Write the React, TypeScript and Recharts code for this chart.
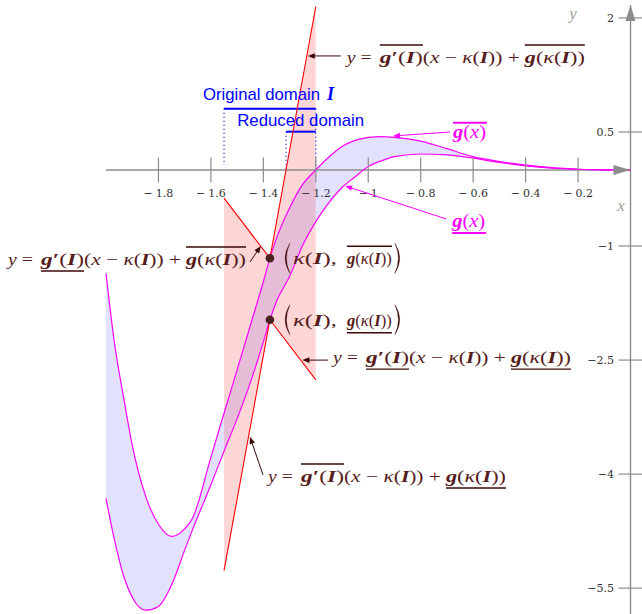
import React from 'react';
import { ComposedChart, XAxis, YAxis, Line, Area, Scatter } from 'recharts';

const CHART_W = 642;
const CHART_H = 614;
const X_DOMAIN: [number, number] = [-2, 0];
const Y_DOMAIN: [number, number] = [-5.84, 2.17];

// interval function g(x) = [lower, upper] sampled on a common grid
const xGrid = [-2.0, -1.97, -1.93, -1.9, -1.85, -1.8, -1.75, -1.7, -1.67, -1.6, -1.55, -1.5, -1.45, -1.4, -1.375, -1.35, -1.3, -1.25, -1.2, -1.15, -1.1, -1.05, -1.0, -0.95, -0.9, -0.8, -0.7, -0.6, -0.5, -0.4, -0.3, -0.2, -0.1, 0];
const gUpper = [-1.36, -2.22, -3.05, -3.62, -4.28, -4.66, -4.82, -4.72, -4.58, -3.78, -3.2, -2.63, -2.05, -1.47, -1.16, -0.9, -0.5, -0.19, 0.0, 0.17, 0.31, 0.39, 0.43, 0.44, 0.43, 0.38, 0.28, 0.175, 0.11, 0.066, 0.03, 0.01, 0.002, 0];
const gLower = [-4.32, -4.83, -5.37, -5.62, -5.79, -5.74, -5.46, -5.0, -4.73, -4.14, -3.7, -3.27, -2.8, -2.26, -1.97, -1.73, -1.4, -0.99, -0.68, -0.43, -0.23, -0.09, 0.045, 0.12, 0.175, 0.21, 0.2, 0.155, 0.1, 0.055, 0.025, 0.01, 0.002, 0];

// mean value form on the original domain I
const domainI = [-1.55, -1.2];
const reducedDomain = [-1.313, -1.2];
const domainILevel = 0.807;
const reducedLevel = 0.504;
const domainIDotBottom = 0.066;
const tangentX = [-1.55, -1.375, -1.2];
const tangentUpper = [-0.37, -1.16, 2.15];
const tangentLower = [-5.27, -1.97, -2.76];

const xTickValues = [-1.8, -1.6, -1.4, -1.2, -1, -0.8, -0.6, -0.4, -0.2];
const xTickLabels = ['1.8', '1.6', '1.4', '1.2', '1', '0.8', '0.6', '0.4', '0.2'];
const yTickValues = [2, 0.5, -1, -2.5, -4, -5.5];
const yTickLabels = ['2', '0.5', '−1', '−2.5', '−4', '−5.5'];

// annotation anchors (data coordinates of arrow tips / labelled points)
const annotationAnchors = [
  { x: -1.2343, y: 1.5, kind: 'eqTop' },
  { x: -1.41, y: -1.0, kind: 'eqLeft' },
  { x: -1.255, y: -2.49, kind: 'eqRight' },
  { x: -1.451, y: -3.51, kind: 'eqBottom' },
  { x: -0.9056, y: 0.447, kind: 'gUp' },
  { x: -1.088, y: -0.21, kind: 'gLow' },
  { x: -1.375, y: -1.16, kind: 'ptA' },
  { x: -1.375, y: -1.97, kind: 'ptB' },
  { x: -1.55, y: 0.807, kind: 'origLabel' },
  { x: -1.313, y: 0.504, kind: 'redLabel' },
];

const bandData = xGrid.map((x, i) => ({ x, r: [gLower[i], gUpper[i]], up: gUpper[i], lo: gLower[i] }));
const pinkData = tangentX.map((x, i) => ({ x, r: [tangentLower[i], tangentUpper[i]], up: tangentUpper[i], lo: tangentLower[i] }));
const xAxisLine = [{ x: X_DOMAIN[0], y: 0 }, { x: X_DOMAIN[1], y: 0 }];
const yAxisLine = [{ x: 0, y: Y_DOMAIN[0] }, { x: 0, y: Y_DOMAIN[1] }];
const origLine = [{ x: domainI[0], y: domainILevel }, { x: domainI[1], y: domainILevel }];
const redLine = [{ x: reducedDomain[0], y: reducedLevel }, { x: reducedDomain[1], y: reducedLevel }];
const dotLeft = [{ x: domainI[0], y: domainILevel }, { x: domainI[0], y: domainIDotBottom }];
const dotMid = [{ x: reducedDomain[0], y: reducedLevel }, { x: reducedDomain[0], y: 0 }];
const dotRight = [{ x: domainI[1], y: domainILevel }, { x: domainI[1], y: 0 }];
const kappaPoints = [{ x: tangentX[1], y: tangentUpper[1] }, { x: tangentX[1], y: tangentLower[1] }];
const xTickData = xTickValues.map((x, i) => ({ x, y: 0, label: xTickLabels[i] }));
const yTickData = yTickValues.map((y, i) => ({ x: 0, y, label: yTickLabels[i] }));
const arrowData = [{ x: 0, y: 0, kind: 'xArrow' }, { x: 0, y: Y_DOMAIN[1], kind: 'yArrow' }];

const AXIS = '#8c8c8c';
const TICKTXT = '#333333';
const MATH_FONT = "'Liberation Serif', 'Times New Roman', serif";
const TICK_FONT = "'DejaVu Serif', serif";
const SANS_FONT = "'Liberation Sans', Arial, sans-serif";
const TXT = '#561b1b';
const BAR = '#3c0808';
const MAG = '#ff00ff';
const BLUE = '#0000ff';

function Arrow({ x1, y1, x2, y2, color, w = 1, head = 7 }: any) {
  const ang = Math.atan2(y2 - y1, x2 - x1);
  const hx = x2 - head * Math.cos(ang);
  const hy = y2 - head * Math.sin(ang);
  const px = -Math.sin(ang) * head * 0.4;
  const py = Math.cos(ang) * head * 0.4;
  return (
    <g>
      <line x1={x1} y1={y1} x2={hx + Math.cos(ang) * 2} y2={hy + Math.sin(ang) * 2} stroke={color} strokeWidth={w} />
      <polygon points={`${x2},${y2} ${hx + px},${hy + py} ${hx - px},${hy - py}`} fill={color} />
    </g>
  );
}

const BI = { fontWeight: 'bold', fontStyle: 'italic' } as const;
const IT = { fontStyle: 'italic' } as const;

const EQ_OFF = [0, 33, 76, 178];
const EQ_W = [25, 43, 97, 60];
const EQ_FS = 17;
function Eq({ x, y, m1, m2 }: any) {
  const seg = (i: number, content: any) => (
    <text x={x + EQ_OFF[i]} y={y} textLength={EQ_W[i]} lengthAdjust="spacingAndGlyphs" fontFamily={MATH_FONT} fontSize={EQ_FS} fill={TXT}>
      {content}
    </text>
  );
  const mark = (i: number, m: string) => {
    const yy = m === 'over' ? y - 18 : y + 6;
    return <line x1={x + EQ_OFF[i]} x2={x + EQ_OFF[i] + EQ_W[i]} y1={yy} y2={yy} stroke={BAR} strokeWidth={1.4} />;
  };
  return (
    <g>
      {seg(0, <><tspan style={IT}>y</tspan><tspan> =</tspan></>)}
      {seg(1, <><tspan style={BI}>g</tspan><tspan fontWeight="bold">′</tspan><tspan>(</tspan><tspan style={BI}>I</tspan><tspan>)</tspan></>)}
      {seg(2, <><tspan>(</tspan><tspan style={IT}>x</tspan><tspan> − </tspan><tspan style={IT}>κ</tspan><tspan>(</tspan><tspan style={BI}>I</tspan><tspan>)) +</tspan></>)}
      {seg(3, <><tspan style={BI}>g</tspan><tspan>(</tspan><tspan style={IT}>κ</tspan><tspan>(</tspan><tspan style={BI}>I</tspan><tspan>))</tspan></>)}
      {mark(1, m1)}
      {mark(3, m2)}
    </g>
  );
}

function bigParen(x: number, cy: number, dir: number) {
  // dir = 1 for left paren "(", -1 for right paren ")"
  const outer = x - dir * 9.5;
  const inner = x - dir * 7;
  return `M ${x} ${cy - 15} Q ${outer} ${cy} ${x} ${cy + 15} Q ${inner} ${cy} ${x} ${cy - 15} Z`;
}

function PointLabel({ cx, cy, mark }: any) {
  const base = cy + 6;
  const yy = mark === 'over' ? cy - 12 : cy + 13;
  return (
    <g>
      <path d={bigParen(cx + 20, cy, 1)} fill={BAR} stroke={BAR} strokeWidth={0.4} />
      <text x={cx + 23} y={base} textLength={44} lengthAdjust="spacingAndGlyphs" fontFamily={MATH_FONT} fontSize={17} fill={TXT}>
        <tspan style={IT}>κ</tspan><tspan>(</tspan><tspan style={BI}>I</tspan><tspan>),</tspan>
      </text>
      <text x={cx + 77} y={base} textLength={45} lengthAdjust="spacingAndGlyphs" fontFamily={MATH_FONT} fontSize={17} fill={TXT}>
        <tspan style={BI}>g</tspan><tspan>(</tspan><tspan style={IT}>κ</tspan><tspan>(</tspan><tspan style={BI}>I</tspan><tspan>))</tspan>
      </text>
      <line x1={cx + 77} x2={cx + 122} y1={yy} y2={yy} stroke={BAR} strokeWidth={1.4} />
      <path d={bigParen(cx + 125, cy, -1)} fill={BAR} stroke={BAR} strokeWidth={0.4} />
    </g>
  );
}

function GLabel({ x, y, w }: any) {
  return (
    <text x={x} y={y} textLength={w} lengthAdjust="spacingAndGlyphs" fontFamily={MATH_FONT} fontSize={18} fill={MAG}>
      <tspan style={BI}>g</tspan><tspan>(</tspan><tspan style={IT}>x</tspan><tspan>)</tspan>
    </text>
  );
}

function Annotation(props: any) {
  const { cx, cy, payload } = props;
  if (cx == null || cy == null) return <g />;
  switch (payload.kind) {
    case 'eqTop':
      return (
        <g>
          <Arrow x1={cx + 34} y1={cy} x2={cx + 1} y2={cy} color={BAR} />
          <Eq x={cx + 40} y={cy + 7} m1="over" m2="over" />
        </g>
      );
    case 'eqLeft':
      return (
        <g>
          <Arrow x1={cx - 10.7} y1={cy + 16} x2={cx} y2={cy} color={BAR} />
          <Eq x={cx - 252.7} y={cy + 19} m1="under" m2="over" />
        </g>
      );
    case 'eqRight':
      return (
        <g>
          <Arrow x1={cx + 26.6} y1={cy + 0.8} x2={cx + 1} y2={cy + 0.8} color={BAR} />
          <Eq x={cx + 31.6} y={cy + 3.8} m1="under" m2="under" />
        </g>
      );
    case 'eqBottom':
      return (
        <g>
          <Arrow x1={cx + 13} y1={cy + 38} x2={cx} y2={cy} color={BAR} />
          <Eq x={cx + 18} y={cy + 45.2} m1="over" m2="under" />
        </g>
      );
    case 'gUp':
      return (
        <g>
          <Arrow x1={cx + 57} y1={cy - 4} x2={cx} y2={cy} color={MAG} />
          <GLabel x={cx + 60} y={cy + 2} w={33} />
          <line x1={cx + 60} x2={cx + 94} y1={cy - 13.3} y2={cy - 13.3} stroke={MAG} strokeWidth={2} />
        </g>
      );
    case 'gLow':
      return (
        <g>
          <Arrow x1={cx + 101} y1={cy + 33} x2={cx} y2={cy} color={MAG} />
          <GLabel x={cx + 107} y={cy + 41} w={33} />
          <line x1={cx + 107} x2={cx + 141} y1={cy + 47} y2={cy + 47} stroke={MAG} strokeWidth={2} />
        </g>
      );
    case 'ptA':
      return <PointLabel cx={cx} cy={cy} mark="over" />;
    case 'ptB':
      return <PointLabel cx={cx} cy={cy} mark="under" />;
    case 'origLabel':
      return (
        <g>
          <text x={cx - 21} y={cy - 8.7} textLength={117} lengthAdjust="spacingAndGlyphs" fontFamily={SANS_FONT} fontSize={17} fill={BLUE}>Original domain</text>
          <text x={cx + 103} y={cy - 8.7} fontFamily={MATH_FONT} fontSize={18} fill={BLUE} style={BI}>I</text>
        </g>
      );
    case 'redLabel':
      return (
        <text x={cx - 49} y={cy - 5.7} textLength={127} lengthAdjust="spacingAndGlyphs" fontFamily={SANS_FONT} fontSize={17} fill={BLUE}>Reduced domain</text>
      );
    default:
      return <g />;
  }
}

function XTick(props: any) {
  const { cx, cy, payload } = props;
  return (
    <g>
      <line x1={cx} x2={cx} y1={cy - 12.5} y2={cy + 12.5} stroke={AXIS} strokeWidth={1.2} />
      <text x={cx} y={cy + 27} textAnchor="middle" fontFamily={TICK_FONT} fontSize={11} fill={TICKTXT}>
        <tspan>−</tspan><tspan dx={3}>{payload.label}</tspan>
      </text>
    </g>
  );
}

function YTick(props: any) {
  const { cx, cy, payload } = props;
  return (
    <g>
      <line x1={cx - 12} x2={cx + 12} y1={cy} y2={cy} stroke={AXIS} strokeWidth={1.2} />
      <text x={cx - 16.5} y={cy + 4} textAnchor="end" fontFamily={TICK_FONT} fontSize={11} fill={TICKTXT}>{payload.label}</text>
    </g>
  );
}

function AxisDecor(props: any) {
  const { cx, cy, payload } = props;
  if (payload.kind === 'xArrow') {
    return (
      <g>
        <polygon points={`${cx},${cy} ${cx - 17},${cy - 5} ${cx - 17},${cy + 5}`} fill={AXIS} />
        <text x={cx - 9.5} y={cy + 41} textAnchor="middle" fontFamily={MATH_FONT} fontSize={17} fill="#a0a0a0" fontStyle="italic">x</text>
      </g>
    );
  }
  return (
    <g>
      <polygon points={`${cx},${cy} ${cx - 5},${cy + 16} ${cx + 5},${cy + 16}`} fill={AXIS} />
      <text x={cx - 57.5} y={cy + 14} textAnchor="middle" fontFamily={MATH_FONT} fontSize={17} fill="#a0a0a0" fontStyle="italic">y</text>
    </g>
  );
}

function KappaDot(props: any) {
  const { cx, cy } = props;
  return <circle cx={cx} cy={cy} r={4.3} fill="#4a2020" />;
}

export default function App() {
  return (
    <div style={{ position: 'absolute', left: 0, top: 0 }}>
      <ComposedChart width={CHART_W} height={CHART_H} margin={{ top: 5, right: 11.5, bottom: 0, left: 106 }}>
        <XAxis type="number" dataKey="x" domain={X_DOMAIN} hide />
        <YAxis type="number" dataKey="y" domain={Y_DOMAIN} hide />
        <Area data={bandData} dataKey="r" type="monotone" fill={BLUE} fillOpacity={0.115} stroke="none" isAnimationActive={false} />
        <Area data={pinkData} dataKey="r" type="linear" fill="#ff0000" fillOpacity={0.16} stroke="none" isAnimationActive={false} />
        <Line data={xAxisLine} dataKey="y" type="linear" stroke={AXIS} strokeWidth={1.4} dot={false} activeDot={false} isAnimationActive={false} />
        <Line data={yAxisLine} dataKey="y" type="linear" stroke={AXIS} strokeWidth={1.4} dot={false} activeDot={false} isAnimationActive={false} />
        <Line data={origLine} dataKey="y" type="linear" stroke={BLUE} strokeWidth={2} dot={false} activeDot={false} isAnimationActive={false} />
        <Line data={redLine} dataKey="y" type="linear" stroke={BLUE} strokeWidth={2} dot={false} activeDot={false} isAnimationActive={false} />
        <Line data={dotLeft} dataKey="y" type="linear" stroke={BLUE} strokeWidth={1.2} strokeDasharray="1 3" dot={false} activeDot={false} isAnimationActive={false} />
        <Line data={dotMid} dataKey="y" type="linear" stroke={BLUE} strokeWidth={1.2} strokeDasharray="1 3" dot={false} activeDot={false} isAnimationActive={false} />
        <Line data={dotRight} dataKey="y" type="linear" stroke={BLUE} strokeWidth={1.2} strokeDasharray="1 3" dot={false} activeDot={false} isAnimationActive={false} />
        <Line data={bandData} dataKey="up" type="monotone" stroke={MAG} strokeWidth={1.2} dot={false} activeDot={false} isAnimationActive={false} />
        <Line data={bandData} dataKey="lo" type="monotone" stroke={MAG} strokeWidth={1.2} dot={false} activeDot={false} isAnimationActive={false} />
        <Line data={pinkData} dataKey="up" type="linear" stroke="#ff0000" strokeWidth={1.1} dot={false} activeDot={false} isAnimationActive={false} />
        <Line data={pinkData} dataKey="lo" type="linear" stroke="#ff0000" strokeWidth={1.1} dot={false} activeDot={false} isAnimationActive={false} />
        <Scatter data={xTickData} dataKey="y" shape={XTick} isAnimationActive={false} />
        <Scatter data={yTickData} dataKey="y" shape={YTick} isAnimationActive={false} />
        <Scatter data={arrowData} dataKey="y" shape={AxisDecor} isAnimationActive={false} />
        <Scatter data={kappaPoints} dataKey="y" shape={KappaDot} isAnimationActive={false} />
        <Scatter data={annotationAnchors} dataKey="y" shape={Annotation} isAnimationActive={false} />
      </ComposedChart>
    </div>
  );
}
